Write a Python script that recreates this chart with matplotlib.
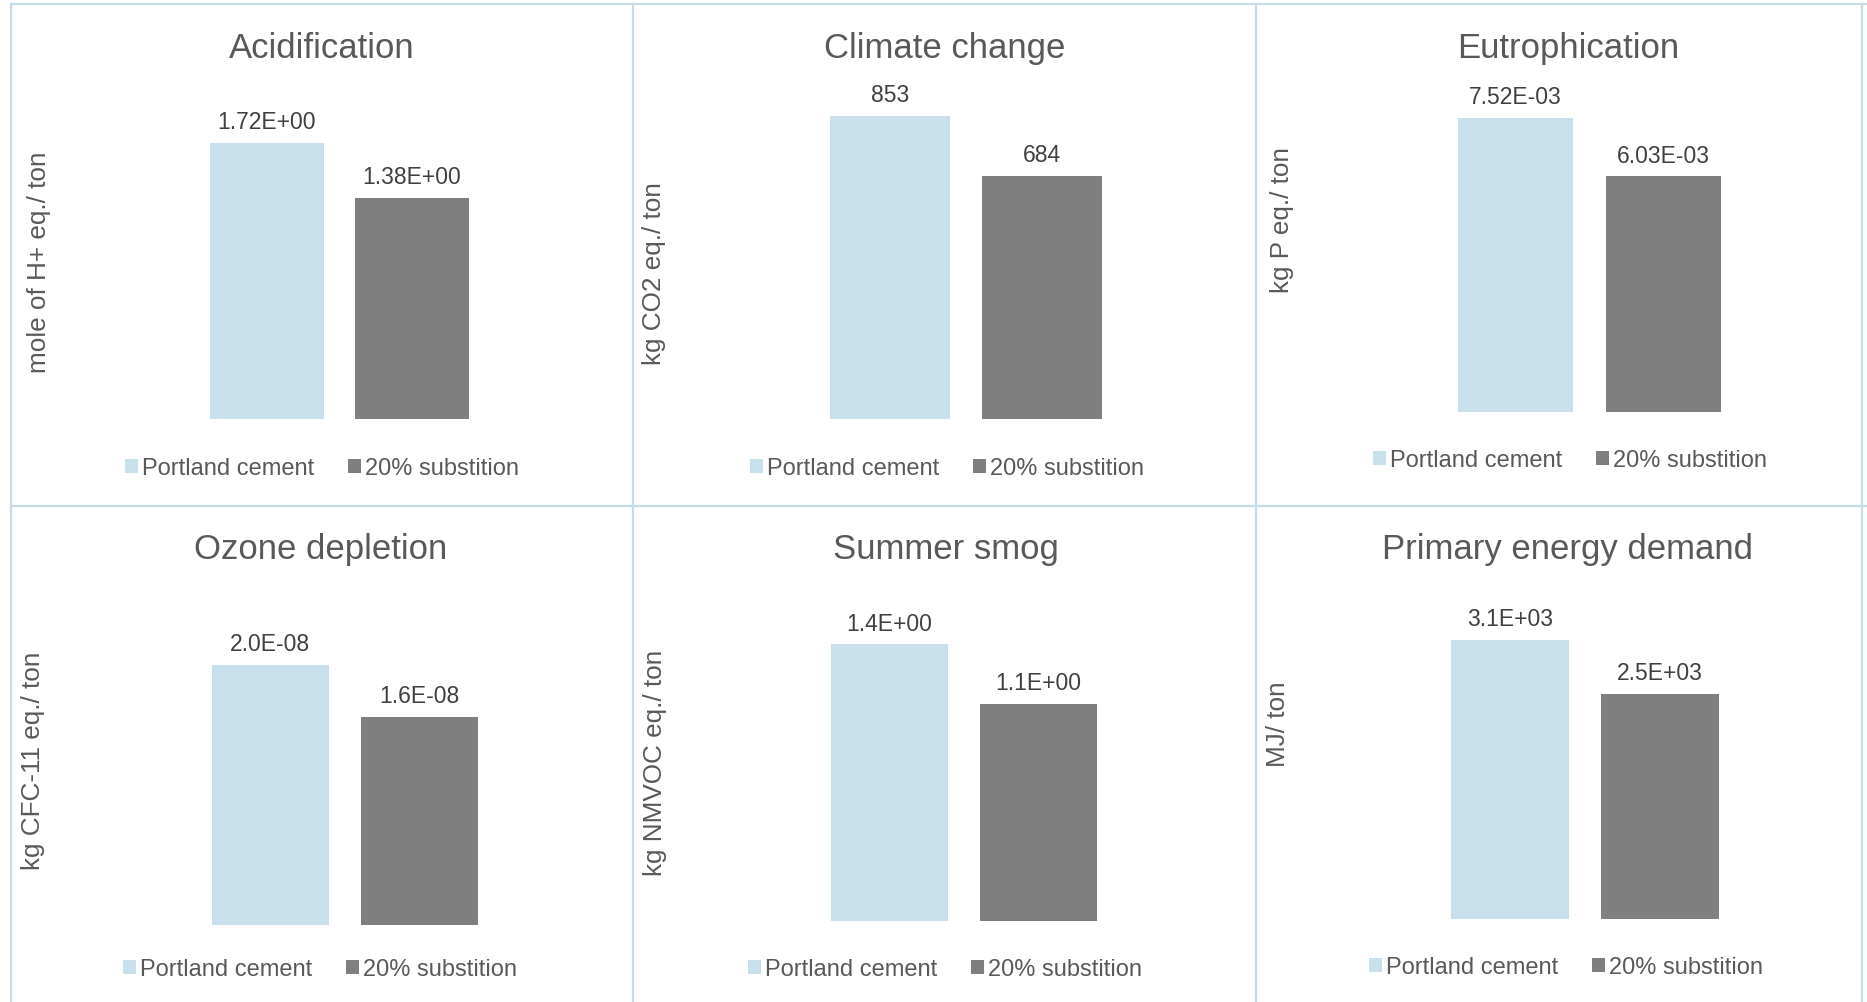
import matplotlib
matplotlib.use("Agg")
import matplotlib.pyplot as plt
from matplotlib.patches import Patch
from matplotlib.lines import Line2D

plt.rcParams['font.family'] = ['Liberation Sans', 'DejaVu Sans']

# ---------------------------------------------------------------
# Data
# ---------------------------------------------------------------
titles = ['Acidification', 'Climate change', 'Eutrophication',
          'Ozone depletion', 'Summer smog', 'Primary energy demand']
units = ['mole of H+ eq./ ton', 'kg CO2 eq./ ton', 'kg P eq./ ton',
         'kg CFC-11 eq./ ton', 'kg NMVOC eq./ ton', 'MJ/ ton']
portland = [1.72, 853, 7.52e-3, 2.0e-8, 1.4, 3.1e3]
substitution = [1.38, 684, 6.03e-3, 1.6e-8, 1.1, 2.5e3]
label_fmt = ['{:.2E}', '{:.0f}', '{:.2E}', '{:.1E}', '{:.1E}', '{:.1E}']
series_names = ['Portland cement', '20% substition']

# ---------------------------------------------------------------
# Layout (pixels in a 1867 x 1003 canvas)
# ---------------------------------------------------------------
W, H = 1867, 1003
bar_c1 = [266.7, 890.1, 1515.2, 270.3, 889.5, 1510.4]    # centre of first bar
bar_sp = [145, 152, 148, 149, 149, 149.5]                 # distance between bar centres
bar_bottom = [420.3, 420.3, 413.2, 926.4, 921.6, 920.4]
bar_top = [144.1, 116.7, 119.1, 665.6, 645.4, 640.6]      # top of the tallest bar
bar_w = [114, 120, 115, 117, 117, 118]
title_xy = [(322, 48.5), (945, 48.5), (1568, 48.5), (321, 550), (946, 550), (1567, 550)]
ylab_xy = [(39, 262), (654, 274), (1282, 220), (33, 761), (655, 763), (1278, 724)]
legend_xy = [(322, 469), (947, 469), (1570, 461), (320, 970), (945, 970), (1566, 968)]

blue = '#c8e0ec'
grey = '#7f7f7f'
text_grey = '#595959'
border = '#c5dbe9'


def fx(x):
    return x / W


def fy(y):
    return 1 - y / H


fig = plt.figure(figsize=(W / 100, H / 100), dpi=100)

# panel borders
for x in [11, 633, 1256, 1862]:
    fig.add_artist(Line2D([fx(x), fx(x)], [fy(5), fy(1003)], color=border, lw=1.6))
for y in [5, 507]:
    fig.add_artist(Line2D([fx(11), fx(1867)], [fy(y), fy(y)], color=border, lw=1.6))

for i in range(6):
    left = bar_c1[i] - bar_sp[i] / 2
    ax = fig.add_axes([fx(left), fy(bar_bottom[i]), 2 * bar_sp[i] / W,
                       (bar_bottom[i] - bar_top[i]) / H])
    vals = [portland[i], substitution[i]]
    bars = ax.bar([0, 1], vals, width=bar_w[i] / bar_sp[i], color=[blue, grey])
    ax.set_xlim(-0.5, 1.5)
    ax.set_ylim(0, portland[i])
    ax.axis('off')
    ax.bar_label(bars, labels=[label_fmt[i].format(v) for v in vals],
                 padding=7, fontsize=16.5, color='#404040')

    fig.text(fx(title_xy[i][0]), fy(title_xy[i][1]), titles[i],
             ha='center', va='center', fontsize=25, color=text_grey)
    fig.text(fx(ylab_xy[i][0]), fy(ylab_xy[i][1]), units[i], rotation=90,
             ha='center', va='center', fontsize=18.8, color=text_grey)

    handles = [Patch(facecolor=blue, label=series_names[0]),
               Patch(facecolor=grey, label=series_names[1])]
    fig.legend(handles=handles, loc='center',
               bbox_to_anchor=(fx(legend_xy[i][0]), fy(legend_xy[i][1])),
               ncol=2, frameon=False, fontsize=17, labelcolor=text_grey,
               handlelength=0.55, handleheight=0.55, handletextpad=0.2,
               columnspacing=1.4)

plt.savefig('out.png', dpi=100, facecolor='white')
